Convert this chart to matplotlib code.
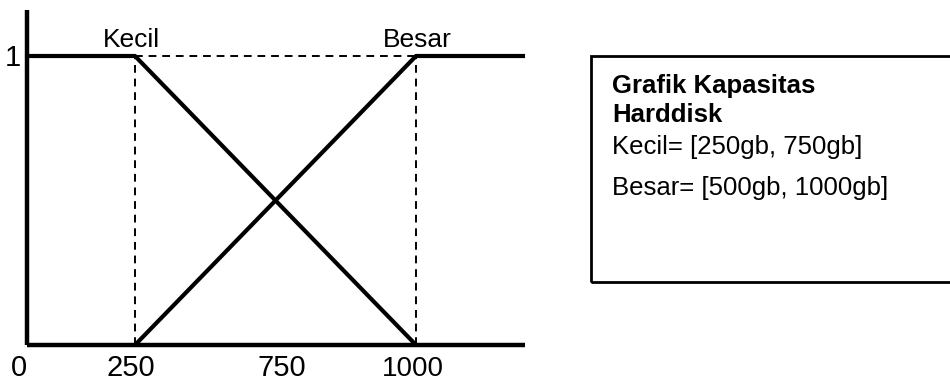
import matplotlib.pyplot as plt
from matplotlib.patches import Rectangle

# Data (fungsi keanggotaan kapasitas harddisk)
kecil_x = [-38, 250, 1000]
kecil_y = [1, 1, 0]
besar_x = [250, 1000, 1291]
besar_y = [0, 1, 1]
batas = [250, 1000]
label_sumbu_x = ['0', '250', '750', '1000']
judul = ['Grafik Kapasitas', 'Harddisk']
keterangan = ['Kecil= [250gb, 750gb]', 'Besar= [500gb, 1000gb]']

W, H = 950, 383
plt.rcParams['font.family'] = ['Liberation Sans', 'DejaVu Sans']

fig = plt.figure(figsize=(W / 100, H / 100), dpi=100)
ax = fig.add_axes([0, 0, 1, 1])

# skala: 250 -> px 135, 1000 -> px 416 ; y 1 -> px 56, 0 -> px 345
sx = 281 / 750
x0 = 250 - 135 / sx
x1 = 250 + (W - 135) / sx
ax.set_xlim(x0, x1)
ax.set_ylim(-(H - 345) / 289, 1 + 56 / 289)


def fx(px):
    return px / W


def fy(py):
    return 1 - py / H


# garis fungsi
ax.plot(kecil_x, kecil_y, color='black', lw=3, solid_capstyle='butt')
ax.plot(besar_x, besar_y, color='black', lw=3, solid_capstyle='butt')

# garis putus-putus
for b in batas:
    ax.plot([b, b], [0, 1], color='black', lw=1.4, ls=(0, (4, 3)))
ax.plot(batas, [1, 1], color='black', lw=1.4, ls=(0, (4, 3)))

# sumbu
ax.plot([kecil_x[0], kecil_x[0]], [0, (345 - 10) / 289], color='black', lw=3.2, solid_capstyle='butt')
ax.plot([kecil_x[0], besar_x[-1]], [0, 0], color='black', lw=3.2, solid_capstyle='butt')
ax.axis('off')

# label
fig.text(fx(131), fy(47), 'Kecil', fontsize=19, ha='center', va='baseline')
fig.text(fx(417), fy(47), 'Besar', fontsize=19, ha='center', va='baseline')
fig.text(fx(21), fy(66), '1', fontsize=21, ha='right', va='baseline')

pos_label = [19, 131, 282, 413]
ukuran = [21, 21, 21, 20]
for t, p, s in zip(label_sumbu_x, pos_label, ukuran):
    fig.text(fx(p), fy(376), t, fontsize=s, ha='center', va='baseline')

# kotak keterangan
kotak = Rectangle((fx(591), fy(282)), 1, fy(56) - fy(282), transform=fig.transFigure,
                  fill=False, edgecolor='black', lw=2, clip_on=False)
fig.patches.append(kotak)
fig.text(fx(612), fy(93), judul[0], fontsize=18.5, fontweight='bold', ha='left', va='baseline')
fig.text(fx(612), fy(122), judul[1], fontsize=18.5, fontweight='bold', ha='left', va='baseline')
fig.text(fx(612), fy(154), keterangan[0], fontsize=18.5, ha='left', va='baseline')
fig.text(fx(612), fy(195), keterangan[1], fontsize=18.5, ha='left', va='baseline')

fig.savefig('out.png', dpi=100)
